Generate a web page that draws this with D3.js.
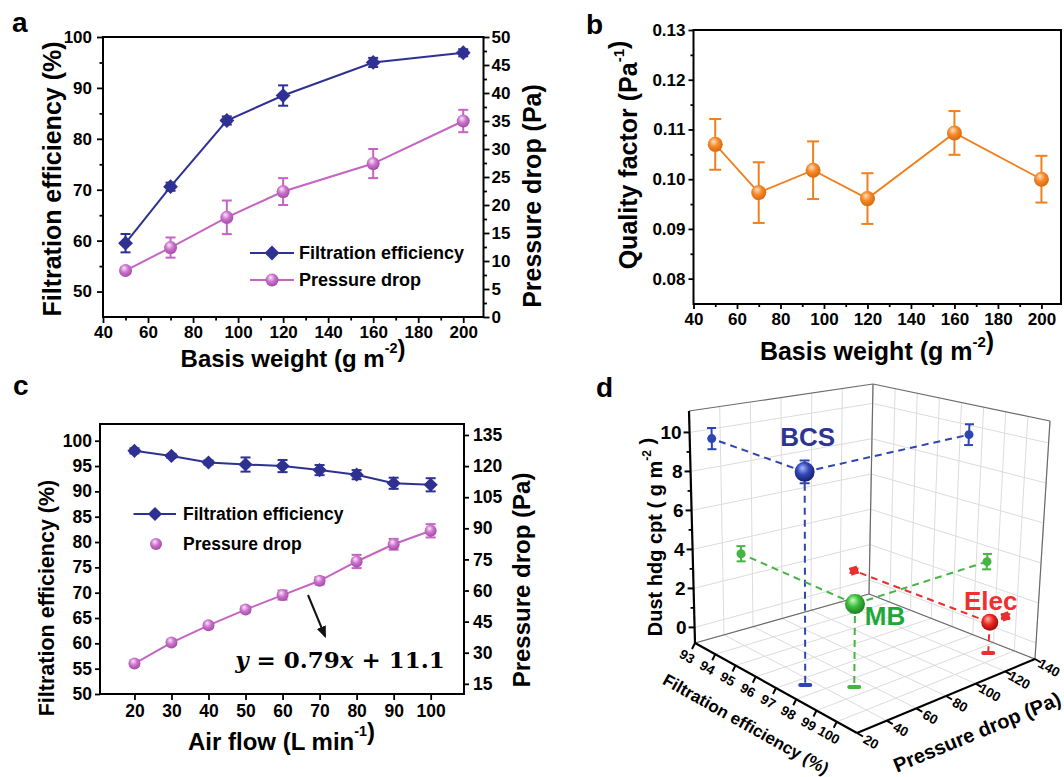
<!DOCTYPE html>
<html>
<head>
<meta charset="utf-8">
<script src="https://cdn.jsdelivr.net/npm/d3@7"></script>
<style>
    body { margin: 0; background: #fff; }
    svg text { font-family: "Liberation Sans", Arial, sans-serif; font-weight: bold; fill: #000; }
</style>
</head>
<body>
<svg id="fig" width="1064" height="777"></svg>
<script>
// Panel a: basis weight series
const basisWeight = [50, 70, 95, 120, 160, 200];
const feA = [59.5, 70.6, 83.6, 88.5, 95.0, 96.9];
const feAErr = [1.8, 0.8, 0.8, 2.0, 0.9, 0.7];
const pdA = [8.3, 12.4, 17.8, 22.4, 27.4, 35.0];
const pdAErr = [0.6, 1.8, 3.0, 2.4, 2.6, 2.0];

// Panel b: quality factor
const qf = [0.1070, 0.0973, 0.1018, 0.0961, 0.1093, 0.1000];
const qfErr = [0.0051, 0.0061, 0.0058, 0.0051, 0.0044, 0.0047];

// Panel c: air flow series
const airFlow = [20, 30, 40, 50, 60, 70, 80, 90, 100];
const feC = [98.0, 97.0, 95.7, 95.3, 95.0, 94.2, 93.3, 91.6, 91.3];
const feCErr = [0.5, 0.4, 0.4, 1.4, 1.2, 1.0, 0.9, 1.1, 1.3];
const pdC = [24.8, 34.9, 43.2, 50.8, 57.8, 64.7, 74.0, 82.3, 88.8];
const pdCErr = [1.0, 1.2, 1.2, 1.3, 2.2, 1.8, 3.2, 2.6, 3.2];

// Panel d: 3D comparison
const samples = ['BCS', 'MB', 'Elec'];
const feD = [97.4, 98.5, 99.5];
const pdD = [34.4, 52.5, 129.4];
const dustD = [9.5, 3.2, 0.75];
const dustErr = [0.55, 0.4, 0.12];

// Tick values
const ticksAX = [40, 60, 80, 100, 120, 140, 160, 180, 200];
const ticksAL = [50, 60, 70, 80, 90, 100];
const ticksAR = [0, 5, 10, 15, 20, 25, 30, 35, 40, 45, 50];
const ticksBY = [0.08, 0.09, 0.10, 0.11, 0.12, 0.13];
const ticksCL = [50, 55, 60, 65, 70, 75, 80, 85, 90, 95, 100];
const ticksCR = [15, 30, 45, 60, 75, 90, 105, 120, 135];
const ticksDFe = [93, 94, 95, 96, 97, 98, 99, 100];
const ticksDPd = [20, 40, 60, 80, 100, 120, 140];
const ticksDDust = [0, 2, 4, 6, 8, 10];

const NAVY = '#2e3192';
const PINK = '#c464c4';
const ORANGE = '#f0801e';
const SAMPLE_COLORS = ['#2f46b0', '#45b444', '#e8302e'];
const SAMPLE_TEXT = ['#2d3592', '#1fa83a', '#f0302e'];

const svg = d3.select('#fig');
const defs = svg.append('defs');

function sphereGrad(id, light, mid, dark) {
    const g = defs.append('radialGradient').attr('id', id)
        .attr('cx', '45%').attr('cy', '40%').attr('r', '60%')
        .attr('fx', '38%').attr('fy', '30%');
    g.append('stop').attr('offset', '0%').attr('stop-color', light);
    g.append('stop').attr('offset', '50%').attr('stop-color', mid);
    g.append('stop').attr('offset', '100%').attr('stop-color', dark);
}
sphereGrad('gPink', '#fbe6fb', '#cc74cc', '#a24aa6');
sphereGrad('gOrange', '#ffe2c4', '#f48a2a', '#d9670c');
sphereGrad('gBlue', '#aab8ff', '#3348b8', '#16206e');
sphereGrad('gGreen', '#c8ffc0', '#3cbc3c', '#1a7f22');
sphereGrad('gRed', '#ffb0a8', '#e82a22', '#a00808');
const SAMPLE_GRAD = ['gBlue', 'gGreen', 'gRed'];

defs.append('marker').attr('id', 'arrow')
    .attr('viewBox', '0 0 10 10').attr('refX', 8).attr('refY', 5)
    .attr('markerWidth', 6).attr('markerHeight', 6).attr('orient', 'auto')
    .append('path').attr('d', 'M0,1 L10,5 L0,9 z').attr('fill', '#111');

// Shared helpers
function styleAxis(g, size) {
    g.attr('font-family', null).attr('font-size', null);
    g.select('.domain').remove();
    g.selectAll('.tick line').attr('stroke', '#000').attr('stroke-width', 1.8);
    g.selectAll('.tick text').style('font-size', size + 'px');
}

function frame(g, x0, x1, y0, y1) {
    g.append('rect').attr('x', x0).attr('y', y0)
        .attr('width', x1 - x0).attr('height', y1 - y0)
        .attr('fill', 'none').attr('stroke', '#000').attr('stroke-width', 2);
}

function errorBars(g, xs, ys, errs, x, y, color, cap) {
    const eb = g.append('g').attr('stroke', color).attr('stroke-width', 2);
    xs.forEach((xv, i) => {
        const px = x(xv), top = y(ys[i] + errs[i]), bot = y(ys[i] - errs[i]);
        eb.append('line').attr('x1', px).attr('x2', px).attr('y1', top).attr('y2', bot);
        eb.append('line').attr('x1', px - cap).attr('x2', px + cap).attr('y1', top).attr('y2', top);
        eb.append('line').attr('x1', px - cap).attr('x2', px + cap).attr('y1', bot).attr('y2', bot);
    });
}

function linePath(g, xs, ys, x, y, color, width) {
    g.append('path')
        .datum(xs.map((xv, i) => [xv, ys[i]]))
        .attr('fill', 'none').attr('stroke', color).attr('stroke-width', width)
        .attr('d', d3.line().x(d => x(d[0])).y(d => y(d[1])));
}

function diamonds(g, xs, ys, x, y, size) {
    g.selectAll(null).data(xs).enter().append('path')
        .attr('d', d3.symbol(d3.symbolSquare, size)())
        .attr('transform', (d, i) => `translate(${x(d)},${y(ys[i])}) rotate(45)`)
        .attr('fill', NAVY);
}

function spheres(g, xs, ys, x, y, r, grad) {
    g.selectAll(null).data(xs).enter().append('circle')
        .attr('cx', d => x(d)).attr('cy', (d, i) => y(ys[i]))
        .attr('r', r).attr('fill', `url(#${grad})`);
}

function title(g, x, y, rot, size, parts) {
    const t = g.append('text')
        .attr('transform', `translate(${x},${y}) rotate(${rot})`)
        .attr('text-anchor', 'middle').attr('dominant-baseline', 'central')
        .style('font-size', size + 'px');
    parts.forEach(p => {
        if (p.sup) {
            t.append('tspan').attr('dy', -size * 0.42).style('font-size', (size * 0.6) + 'px').text(p.sup);
            t.append('tspan').attr('dy', size * 0.42).text('');
        } else {
            t.append('tspan').text(p.t);
        }
    });
    return t;
}

function panelLabel(x, y, s) {
    svg.append('text').attr('x', x).attr('y', y).style('font-size', '28px').text(s);
}

// ---------- Panel a ----------
function drawPanelA() {
    const g = svg.append('g');
    const x = d3.scaleLinear().domain([40, 209]).range([103, 483.5]);
    const yL = d3.scaleLinear().domain([45, 100]).range([317, 37]);
    const yR = d3.scaleLinear().domain([0, 50]).range([317, 37]);

    g.append('g').attr('transform', 'translate(0,317)')
        .call(d3.axisBottom(x).tickValues(ticksAX).tickSize(6).tickPadding(3))
        .call(a => styleAxis(a, 17));
    g.append('g').attr('transform', 'translate(0,317)')
        .call(d3.axisBottom(x).tickValues(d3.range(50, 200, 20)).tickSize(3.5).tickFormat(''))
        .call(a => styleAxis(a, 17));
    g.append('g').attr('transform', 'translate(103,0)')
        .call(d3.axisLeft(yL).tickValues(ticksAL).tickSize(6).tickPadding(5))
        .call(a => styleAxis(a, 17));
    g.append('g').attr('transform', 'translate(103,0)')
        .call(d3.axisLeft(yL).tickValues(d3.range(55, 100, 10)).tickSize(3.5).tickFormat(''))
        .call(a => styleAxis(a, 17));
    g.append('g').attr('transform', 'translate(483.5,0)')
        .call(d3.axisRight(yR).tickValues(ticksAR).tickSize(6).tickPadding(2))
        .call(a => styleAxis(a, 17));
    g.append('g').attr('transform', 'translate(483.5,0)')
        .call(d3.axisRight(yR).tickValues(d3.range(2.5, 50, 5)).tickSize(3.5).tickFormat(''))
        .call(a => styleAxis(a, 17));
    frame(g, 103, 483.5, 37, 317);

    linePath(g, basisWeight, pdA, x, yR, PINK, 2);
    errorBars(g, basisWeight, pdA, pdAErr, x, yR, PINK, 5);
    spheres(g, basisWeight, pdA, x, yR, 6.5, 'gPink');

    linePath(g, basisWeight, feA, x, yL, NAVY, 2);
    errorBars(g, basisWeight, feA, feAErr, x, yL, NAVY, 5);
    diamonds(g, basisWeight, feA, x, yL, 110);

    // legend
    const lg = g.append('g');
    lg.append('line').attr('x1', 250).attr('x2', 294).attr('y1', 253).attr('y2', 253)
        .attr('stroke', NAVY).attr('stroke-width', 2);
    diamonds(lg, [272], [253], d => d, d => d, 110);
    lg.append('text').attr('x', 299).attr('y', 253).attr('dominant-baseline', 'central')
        .style('font-size', '18px').text('Filtration efficiency');
    lg.append('line').attr('x1', 250).attr('x2', 294).attr('y1', 280).attr('y2', 280)
        .attr('stroke', PINK).attr('stroke-width', 2);
    spheres(lg, [272], [280], d => d, d => d, 6.5, 'gPink');
    lg.append('text').attr('x', 299).attr('y', 280).attr('dominant-baseline', 'central')
        .style('font-size', '18px').text('Pressure drop');

    title(g, 293, 358, 0, 24, [{ t: 'Basis weight (g m' }, { sup: '-2' }, { t: ')' }]);
    title(g, 51.5, 179, -90, 25, [{ t: 'Filtration efficiency (%)' }]);
    title(g, 532, 196, -90, 25, [{ t: 'Pressure drop (Pa)' }]);
    panelLabel(12, 32, 'a');
}

// ---------- Panel b ----------
function drawPanelB() {
    const g = svg.append('g');
    const x = d3.scaleLinear().domain([40, 209]).range([693.5, 1061]);
    const y = d3.scaleLinear().domain([0.0749, 0.13]).range([304, 30]);

    g.append('g').attr('transform', 'translate(0,304)')
        .call(d3.axisBottom(x).tickValues(ticksAX).tickSize(5).tickPadding(4))
        .call(a => styleAxis(a, 17));
    g.append('g').attr('transform', 'translate(0,304)')
        .call(d3.axisBottom(x).tickValues(d3.range(50, 200, 20)).tickSize(3).tickFormat(''))
        .call(a => styleAxis(a, 17));
    g.append('g').attr('transform', 'translate(693.5,0)')
        .call(d3.axisLeft(y).tickValues(ticksBY).tickSize(5).tickPadding(3).tickFormat(d3.format('.2f')))
        .call(a => styleAxis(a, 17));
    g.append('g').attr('transform', 'translate(693.5,0)')
        .call(d3.axisLeft(y).tickValues(d3.range(0.085, 0.13, 0.01)).tickSize(3).tickFormat(''))
        .call(a => styleAxis(a, 17));
    frame(g, 693.5, 1061, 30, 304);

    linePath(g, basisWeight, qf, x, y, ORANGE, 1.8);
    errorBars(g, basisWeight, qf, qfErr, x, y, ORANGE, 6);
    spheres(g, basisWeight, qf, x, y, 7.5, 'gOrange');

    title(g, 877, 351, 0, 25, [{ t: 'Basis weight (g m' }, { sup: '-2' }, { t: ')' }]);
    title(g, 628, 155, -90, 25, [{ t: 'Quality factor (Pa' }, { sup: '-1' }, { t: ')' }]);
    panelLabel(586, 34, 'b');
}

// ---------- Panel c ----------
function drawPanelC() {
    const g = svg.append('g');
    const x = d3.scaleLinear().domain([10.7, 109]).range([100, 464]);
    const yL = d3.scaleLinear().domain([50, 103.3]).range([694, 424]);
    const yR = d3.scaleLinear().domain([10.1, 140.3]).range([694, 424]);

    g.append('g').attr('transform', 'translate(0,694)')
        .call(d3.axisBottom(x).tickValues(airFlow).tickSize(6).tickPadding(5))
        .call(a => styleAxis(a, 17.5));
    g.append('g').attr('transform', 'translate(100,0)')
        .call(d3.axisLeft(yL).tickValues(ticksCL).tickSize(5).tickPadding(3))
        .call(a => styleAxis(a, 17.5));
    g.append('g').attr('transform', 'translate(464,0)')
        .call(d3.axisRight(yR).tickValues(ticksCR).tickSize(5).tickPadding(4))
        .call(a => styleAxis(a, 17.5));
    frame(g, 100, 464, 424, 694);

    linePath(g, airFlow, pdC, x, yR, PINK, 2);
    errorBars(g, airFlow, pdC, pdCErr, x, yR, PINK, 5);
    spheres(g, airFlow, pdC, x, yR, 6, 'gPink');

    linePath(g, airFlow, feC, x, yL, NAVY, 2);
    errorBars(g, airFlow, feC, feCErr, x, yL, NAVY, 5);
    diamonds(g, airFlow, feC, x, yL, 100);

    // legend
    const lg = g.append('g');
    lg.append('line').attr('x1', 133.5).attr('x2', 176).attr('y1', 514).attr('y2', 514)
        .attr('stroke', NAVY).attr('stroke-width', 2);
    diamonds(lg, [155], [514], d => d, d => d, 100);
    lg.append('text').attr('x', 183).attr('y', 514).attr('dominant-baseline', 'central')
        .style('font-size', '17.5px').text('Filtration efficiency');
    spheres(lg, [156], [544], d => d, d => d, 6, 'gPink');
    lg.append('text').attr('x', 183).attr('y', 544).attr('dominant-baseline', 'central')
        .style('font-size', '17.5px').text('Pressure drop');

    // fit annotation
    g.append('line').attr('x1', 308).attr('y1', 595).attr('x2', 325).attr('y2', 636)
        .attr('stroke', '#111').attr('stroke-width', 2).attr('marker-end', 'url(#arrow)');
    const eq = g.append('text').attr('x', 340).attr('y', 668).attr('text-anchor', 'middle')
        .style('font-family', '"DejaVu Serif", serif').style('font-size', '23px');
    eq.append('tspan').style('font-style', 'italic').text('y');
    eq.append('tspan').text(' = 0.79');
    eq.append('tspan').style('font-style', 'italic').text('x');
    eq.append('tspan').text(' + 11.1');

    title(g, 281.5, 741, 0, 24, [{ t: 'Air flow (L min' }, { sup: '-1' }, { t: ')' }]);
    title(g, 46.5, 598, -90, 21.5, [{ t: 'Filtration efficiency (%)' }]);
    title(g, 520.7, 580, -90, 24, [{ t: 'Pressure drop (Pa)' }]);
    panelLabel(13, 395, 'c');
}

// ---------- Panel d (3D box, projected by trilinear corner interpolation) ----------
const CUBE_FLOOR = [[695, 643], [857, 733], [1035, 659], [869, 594]];
const CUBE_TOP = [[689, 411], [858, 470], [1050, 421], [873, 384]];
const FE_MIN = 93, FE_MAX = 101, PD_MIN = 20, PD_MAX = 140, DU_MIN = -0.8, DU_MAX = 11.1;

function drawPanelD() {
    const g = svg.append('g');
    const su = d3.scaleLinear().domain([FE_MIN, FE_MAX]).range([0, 1]);
    const sv = d3.scaleLinear().domain([PD_MIN, PD_MAX]).range([0, 1]);
    const sw = d3.scaleLinear().domain([DU_MIN, DU_MAX]).range([0, 1]);

    function bilerp(q, u, v) {
        const wts = [(1 - u) * (1 - v), u * (1 - v), u * v, (1 - u) * v];
        return [d3.sum(q, (p, i) => p[0] * wts[i]), d3.sum(q, (p, i) => p[1] * wts[i])];
    }
    function proj(fe, pd, du) {
        const u = su(fe), v = sv(pd), w = sw(du);
        const b = bilerp(CUBE_FLOOR, u, v), t = bilerp(CUBE_TOP, u, v);
        return [b[0] + (t[0] - b[0]) * w, b[1] + (t[1] - b[1]) * w];
    }
    function seg(p, q, color, width, dash) {
        const l = g.append('line').attr('x1', p[0]).attr('y1', p[1]).attr('x2', q[0]).attr('y2', q[1])
            .attr('stroke', color).attr('stroke-width', width);
        if (dash) l.attr('stroke-dasharray', dash);
        return l;
    }

    // grids
    const GRID = '#dcdcdc';
    d3.range(FE_MIN, FE_MAX + 0.5, 1).forEach(fe => {
        seg(proj(fe, PD_MIN, DU_MIN), proj(fe, PD_MAX, DU_MIN), GRID, 1);
        seg(proj(fe, PD_MAX, DU_MIN), proj(fe, PD_MAX, DU_MAX), GRID, 1);
    });
    d3.range(PD_MIN, PD_MAX + 1, 20).forEach(pd => {
        seg(proj(FE_MIN, pd, DU_MIN), proj(FE_MAX, pd, DU_MIN), GRID, 1);
        seg(proj(FE_MIN, pd, DU_MIN), proj(FE_MIN, pd, DU_MAX), GRID, 1);
    });
    ticksDDust.forEach(du => {
        seg(proj(FE_MIN, PD_MIN, du), proj(FE_MIN, PD_MAX, du), GRID, 1);
        seg(proj(FE_MIN, PD_MAX, du), proj(FE_MAX, PD_MAX, du), GRID, 1);
    });

    // box edges
    const EDGE = '#6a6a6a';
    seg(proj(FE_MIN, PD_MIN, DU_MIN), proj(FE_MIN, PD_MAX, DU_MIN), EDGE, 1.2);
    seg(proj(FE_MIN, PD_MAX, DU_MIN), proj(FE_MAX, PD_MAX, DU_MIN), EDGE, 1.2);
    seg(proj(FE_MIN, PD_MAX, DU_MIN), proj(FE_MIN, PD_MAX, DU_MAX), EDGE, 1.2);
    seg(proj(FE_MAX, PD_MAX, DU_MIN), proj(FE_MAX, PD_MAX, DU_MAX), EDGE, 1.2);
    seg(proj(FE_MIN, PD_MIN, DU_MAX), proj(FE_MIN, PD_MAX, DU_MAX), EDGE, 1.2);
    seg(proj(FE_MIN, PD_MAX, DU_MAX), proj(FE_MAX, PD_MAX, DU_MAX), EDGE, 1.2);

    // axes
    seg(proj(FE_MIN, PD_MIN, DU_MIN), proj(FE_MIN, PD_MIN, DU_MAX), '#000', 2.2);
    seg(proj(FE_MIN, PD_MIN, DU_MIN), proj(FE_MAX, PD_MIN, DU_MIN), '#000', 2.2);
    seg(proj(FE_MAX, PD_MIN, DU_MIN), proj(FE_MAX, PD_MAX, DU_MIN), '#000', 2.2);

    ticksDDust.forEach(du => {
        const p = proj(FE_MIN, PD_MIN, du);
        seg(p, [p[0] - 6, p[1]], '#000', 2);
        g.append('text').attr('x', p[0] - 8).attr('y', p[1])
            .attr('text-anchor', 'end').attr('dominant-baseline', 'central')
            .style('font-size', '19px').text(du);
    });
    d3.range(1, 11, 2).forEach(du => {
        const p = proj(FE_MIN, PD_MIN, du);
        seg(p, [p[0] - 3.5, p[1]], '#000', 1.8);
    });
    ticksDFe.forEach(fe => {
        const p = proj(fe, PD_MIN, DU_MIN);
        seg(p, [p[0] - 3, p[1] + 6], '#000', 2);
        g.append('text').attr('transform', `translate(${p[0] - 8},${p[1] + 13.5}) rotate(30)`)
            .attr('text-anchor', 'middle').attr('dominant-baseline', 'central')
            .style('font-size', '13.5px').text(fe);
    });
    ticksDPd.forEach(pd => {
        const p = proj(FE_MAX, pd, DU_MIN);
        seg(p, [p[0] + 6, p[1] + 3.5], '#000', 2);
        g.append('text').attr('transform', `translate(${p[0] + 14},${p[1] + 9}) rotate(30)`)
            .attr('text-anchor', 'middle').attr('dominant-baseline', 'central')
            .style('font-size', '13.5px').text(pd);
    });

    title(g, 746, 724, 29.3, 17, [{ t: 'Filtration efficiency (%)' }]);
    title(g, 977, 732, -22.5, 20, [{ t: 'Pressure drop (Pa)' }]);
    title(g, 655, 537, -90, 20, [{ t: 'Dust hdg cpt ( g m' }, { sup: '-2' }, { t: ' )' }]);

    // data: projections, drop lines and balls
    const labelOffset = [[3, -26], [30, 21], [1, -12]];
    samples.forEach((name, i) => {
        const fe = feD[i], pd = pdD[i], du = dustD[i], e = dustErr[i];
        const color = SAMPLE_COLORS[i];
        const ball = proj(fe, pd, du);
        const left = proj(FE_MIN, pd, du);
        const right = proj(fe, PD_MAX, du);
        const floor = proj(fe, pd, DU_MIN);

        seg(ball, left, color, 2, '7,5');
        seg(ball, right, color, 2, '7,5');
        seg(ball, floor, color, 2, '7,5');

        // vertical error bars at the ball and at the two wall projections
        [[fe, pd, 5], [FE_MIN, pd, 4.5], [fe, PD_MAX, 4.5]].forEach(([f, p, cap]) => {
            const top = proj(f, p, du + e), bot = proj(f, p, du - e);
            seg(top, bot, color, 2);
            seg([top[0] - cap, top[1]], [top[0] + cap, top[1]], color, 2);
            seg([bot[0] - cap, bot[1]], [bot[0] + cap, bot[1]], color, 2);
        });

        [left, right].forEach(pt => {
            if (name === 'Elec') {
                g.append('rect').attr('x', pt[0] - 4).attr('y', pt[1] - 4).attr('width', 8).attr('height', 8)
                    .attr('fill', color).attr('transform', `rotate(-20,${pt[0]},${pt[1]})`);
            } else {
                g.append('circle').attr('cx', pt[0]).attr('cy', pt[1]).attr('r', 4.5).attr('fill', color);
            }
        });
        g.append('line').attr('x1', floor[0] - 5).attr('x2', floor[0] + 5)
            .attr('y1', floor[1]).attr('y2', floor[1])
            .attr('stroke', color).attr('stroke-width', 4).attr('stroke-linecap', 'round');

        g.append('circle').attr('cx', ball[0]).attr('cy', ball[1])
            .attr('r', name === 'Elec' ? 8.5 : 10).attr('fill', `url(#${SAMPLE_GRAD[i]})`);

        g.append('text').attr('x', ball[0] + labelOffset[i][0]).attr('y', ball[1] + labelOffset[i][1])
            .attr('text-anchor', 'middle').style('font-size', '26px')
            .style('fill', SAMPLE_TEXT[i]).text(name);
    });

    panelLabel(596, 397, 'd');
}

drawPanelA();
drawPanelB();
drawPanelC();
drawPanelD();
</script>
</body>
</html>
